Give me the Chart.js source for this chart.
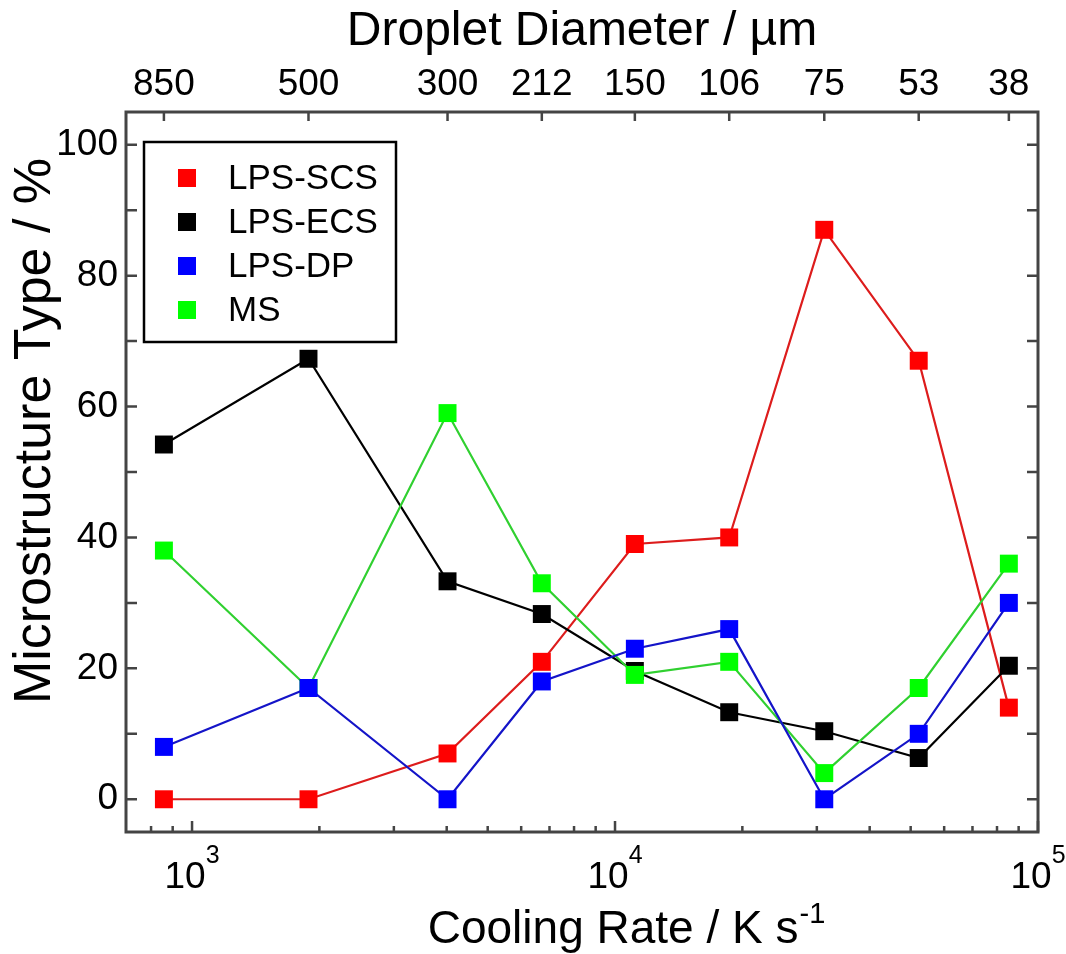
<!DOCTYPE html>
<html>
<head>
<meta charset="utf-8">
<script src="https://cdn.jsdelivr.net/npm/chart.js@4/dist/chart.umd.min.js"></script>
<style>
  html, body { margin: 0; padding: 0; background: #fff; }
  #wrap { width: 1066px; height: 954px; }
</style>
</head>
<body>
<div id="wrap"><canvas id="chart"></canvas></div>
<script>
// Werte
const coolingRate = [858, 1885, 4018, 6713, 11140, 18620, 31240, 52240, 85330];
const diameterLabels = ['850', '500', '300', '212', '150', '106', '75', '53', '38'];

const lpsScs = [0, 0, 7, 21, 39, 40, 87, 67, 14];
const lpsEcs = [54.2, 67.3, 33.3, 28.3, 19.6, 13.3, 10.4, 6.3, 20.4];
const lpsDp = [8, 17, 0, 18, 23, 26, 0, 10, 30];
const ms = [38, 17, 59, 33, 19, 21, 4, 17, 36];

const yTicks = [0, 10, 20, 30, 40, 50, 60, 70, 80, 90, 100];
const xMajorTicks = [1000, 10000, 100000];
const xMinorTicks = [800, 900, 2000, 3000, 4000, 5000, 6000, 7000, 8000, 9000,
  20000, 30000, 40000, 50000, 60000, 70000, 80000, 90000];

const FONT = '"Liberation Sans", Arial, sans-serif';

const toPoints = arr => arr.map((v, i) => ({ x: coolingRate[i], y: v }));

const series = [
  { label: 'LPS-SCS', data: lpsScs, marker: '#ff0000', line: '#dd1c1c', order: 3 },
  { label: 'LPS-ECS', data: lpsEcs, marker: '#000000', line: '#000000', order: 2 },
  { label: 'LPS-DP', data: lpsDp, marker: '#0000ff', line: '#1414c8', order: 0 },
  { label: 'MS', data: ms, marker: '#00ff00', line: '#30d030', order: 1 }
];

// === Rahmen, Ticks, Beschriftungen, Legende ===
const framePlugin = {
  id: 'frame',
  afterDraw(chart) {
    const { ctx, chartArea: a, scales } = chart;
    ctx.save();

    ctx.strokeStyle = '#444';
    ctx.lineWidth = 3;
    ctx.strokeRect(a.left, a.top, a.right - a.left, a.bottom - a.top);

    ctx.lineWidth = 2.5;
    ctx.beginPath();
    scales.y.ticks.forEach(t => {
      const p = scales.y.getPixelForValue(t.value);
      ctx.moveTo(a.left, p); ctx.lineTo(a.left + 11, p);
      ctx.moveTo(a.right, p); ctx.lineTo(a.right - 11, p);
    });
    scales.x.ticks.forEach(t => {
      const p = scales.x.getPixelForValue(t.value);
      const len = xMajorTicks.includes(t.value) ? 11 : 6;
      ctx.moveTo(p, a.bottom); ctx.lineTo(p, a.bottom - len);
    });
    scales.x2.ticks.forEach(t => {
      const p = scales.x2.getPixelForValue(t.value);
      ctx.moveTo(p, a.top); ctx.lineTo(p, a.top + 9);
    });
    ctx.stroke();

    // 10^n Beschriftung
    ctx.fillStyle = '#000';
    ctx.textAlign = 'left';
    ctx.textBaseline = 'alphabetic';
    xMajorTicks.forEach(v => {
      const px = scales.x.getPixelForValue(v);
      const exp = String(Math.round(Math.log10(v)));
      ctx.font = '37px ' + FONT;
      const wb = ctx.measureText('10').width;
      ctx.font = '25px ' + FONT;
      const we = ctx.measureText(exp).width;
      const x0 = px - (wb + we) / 2;
      ctx.font = '37px ' + FONT;
      ctx.fillText('10', x0, a.bottom + 56);
      ctx.font = '25px ' + FONT;
      ctx.fillText(exp, x0 + wb, a.bottom + 31);
    });

    // x-Achsentitel mit Hochzahl
    ctx.font = '46px ' + FONT;
    const base = 'Cooling Rate / K s';
    const wt = ctx.measureText(base).width;
    ctx.font = '29px ' + FONT;
    const wsup = ctx.measureText('-1').width;
    const tx = 626 - (wt + wsup) / 2;
    ctx.font = '46px ' + FONT;
    ctx.fillText(base, tx, 943);
    ctx.font = '29px ' + FONT;
    ctx.fillText('-1', tx + wt + 1, 923);

    // y-Achsentitel
    ctx.save();
    ctx.translate(50, 431);
    ctx.rotate(-Math.PI / 2);
    ctx.textAlign = 'center';
    ctx.font = '52px ' + FONT;
    ctx.fillText('Microstructure Type / %', 0, 0);
    ctx.restore();

    // Legende
    const bx = a.left + 18, by = a.top + 30, bw = 252, bh = 200;
    ctx.strokeStyle = '#000';
    ctx.lineWidth = 2.5;
    ctx.fillStyle = '#fff';
    ctx.fillRect(bx, by, bw, bh);
    ctx.strokeRect(bx, by, bw, bh);
    ctx.font = '35px ' + FONT;
    ctx.textAlign = 'left';
    ctx.textBaseline = 'middle';
    series.forEach((s, i) => {
      const cy = by + 36 + i * 44;
      ctx.fillStyle = s.marker;
      ctx.fillRect(bx + 34, cy - 9, 18, 18);
      ctx.fillStyle = '#000';
      ctx.fillText(s.label, bx + 84, cy + 1);
    });

    ctx.restore();
  }
};

new Chart(document.getElementById('chart'), {
  type: 'line',
  data: {
    datasets: series.map(s => ({
      label: s.label,
      data: toPoints(s.data),
      order: s.order,
      borderColor: s.line,
      borderWidth: 2.2,
      backgroundColor: s.marker,
      pointStyle: 'rect',
      pointRadius: 12.7,
      pointBorderWidth: 0,
      pointBackgroundColor: s.marker,
      tension: 0,
      fill: false
    }))
  },
  options: {
    responsive: true,
    maintainAspectRatio: false,
    animation: false,
    layout: { padding: { left: 0, right: 28, top: 0, bottom: 0 } },
    scales: {
      x: {
        type: 'logarithmic',
        position: 'bottom',
        min: 698,
        max: 100000,
        afterBuildTicks: s => {
          s.ticks = xMajorTicks.concat(xMinorTicks).sort((p, q) => p - q).map(v => ({ value: v }));
        },
        afterFit: s => { s.height = 122; },
        ticks: { display: false },
        grid: { display: false },
        border: { display: false }
      },
      x2: {
        type: 'logarithmic',
        position: 'top',
        min: 698,
        max: 100000,
        afterBuildTicks: s => {
          s.ticks = coolingRate.map(v => ({ value: v }));
        },
        afterFit: s => { s.height = 112; },
        ticks: {
          autoSkip: false,
          maxRotation: 0,
          padding: 5,
          color: '#000',
          font: { family: FONT, size: 37 },
          callback: (v, i) => diameterLabels[i]
        },
        grid: { display: false, drawTicks: false },
        border: { display: false },
        title: {
          display: true,
          text: 'Droplet Diameter / \u00b5m',
          color: '#000',
          font: { family: FONT, size: 48 },
          padding: { top: 3, bottom: 0 }
        }
      },
      y: {
        min: -5,
        max: 105,
        afterBuildTicks: s => {
          s.ticks = yTicks.map(v => ({ value: v }));
        },
        afterFit: s => { s.width = 126; },
        ticks: {
          padding: 8,
          color: '#000',
          font: { family: FONT, size: 37 },
          callback: v => (v % 20 === 0 ? v : '')
        },
        grid: { display: false, drawTicks: false },
        border: { display: false }
      }
    },
    plugins: {
      legend: { display: false },
      tooltip: { enabled: false }
    }
  },
  plugins: [framePlugin]
});
</script>
</body>
</html>
